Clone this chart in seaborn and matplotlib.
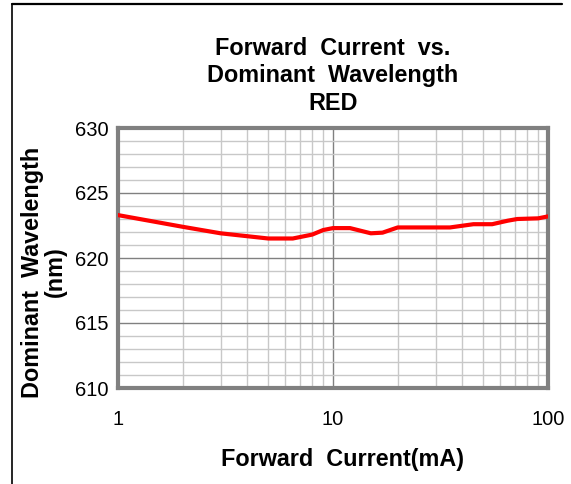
import numpy as np
import pandas as pd
import matplotlib
matplotlib.use("Agg")
import matplotlib.pyplot as plt
import seaborn as sns
from matplotlib.ticker import FixedLocator, NullFormatter
from matplotlib.lines import Line2D

current_ma = [1, 2, 3, 5, 6.5, 8, 9, 10, 12, 15, 17, 20, 35, 45, 55, 65, 72, 90, 100]
wavelength_nm = [623.3, 622.4, 621.9, 621.5, 621.5, 621.8, 622.15, 622.3, 622.3, 621.9,
                 621.95, 622.35, 622.35, 622.6, 622.6, 622.87, 623.0, 623.05, 623.2]
x_ticks = [1, 10, 100]
x_tick_labels = ["1", "10", "100"]
y_ticks = [610, 615, 620, 625, 630]

sns.set_theme(style="white")
plt.rcParams['font.family'] = ['Liberation Sans', 'DejaVu Sans']
plt.rcParams['text.color'] = 'black'
plt.rcParams['axes.labelcolor'] = 'black'

df = pd.DataFrame({"current": current_ma, "wavelength": wavelength_nm})

fig = plt.figure(figsize=(5.71, 4.84), dpi=100)
ax = fig.add_axes([118/571, 1-388/484, (548-118)/571, (388-128)/484])

sns.lineplot(data=df, x="current", y="wavelength", ax=ax, color="#ff0000",
             linewidth=3.0, zorder=5)

ax.set_xscale("log")
ax.set_xlim(1, 100)
ax.set_ylim(610, 630)

# grid
minor_x = [m * d for d in (1, 10) for m in range(2, 10)]
ax.xaxis.set_major_locator(FixedLocator(x_ticks))
ax.xaxis.set_minor_locator(FixedLocator(minor_x))
ax.xaxis.set_minor_formatter(NullFormatter())
ax.set_xticklabels(x_tick_labels)
ax.yaxis.set_major_locator(FixedLocator(y_ticks))
ax.yaxis.set_minor_locator(FixedLocator([v for v in range(610, 631) if v % 5 != 0]))

ax.grid(which="major", color="#808080", linewidth=1.0, zorder=1)
ax.grid(which="minor", color="#c8c8c8", linewidth=1.0, zorder=1)
ax.set_axisbelow(True)

for s in ax.spines.values():
    s.set_visible(True)
    s.set_color("#808080")
    s.set_linewidth(3)

ax.tick_params(axis="both", which="both", length=0, labelsize=14.5, colors="black")
ax.tick_params(axis="x", pad=16)
ax.tick_params(axis="y", pad=7)

ax.set_xlabel("Forward  Current(mA)", fontsize=16.8, fontweight="bold")
ax.xaxis.set_label_coords(0.523, -0.232)
ax.set_ylabel("Dominant  Wavelength\n(nm)", fontsize=16.8, fontweight="bold",
              linespacing=0.95)
ax.yaxis.set_label_coords(-0.12, 0.446)
ax.set_title("Forward  Current  vs.\nDominant  Wavelength\nRED", fontsize=16.8,
             fontweight="bold", pad=13, linespacing=1.25)

# partial frame of the figure (left and top edges)
fig.add_artist(Line2D([12/571, 12/571], [0, 1-4/484], color="black", linewidth=1.2,
                      transform=fig.transFigure))
fig.add_artist(Line2D([12/571, 562/571], [1-4/484, 1-4/484], color="black", linewidth=1.6,
                      transform=fig.transFigure))

fig.savefig("out.png", dpi=100)
